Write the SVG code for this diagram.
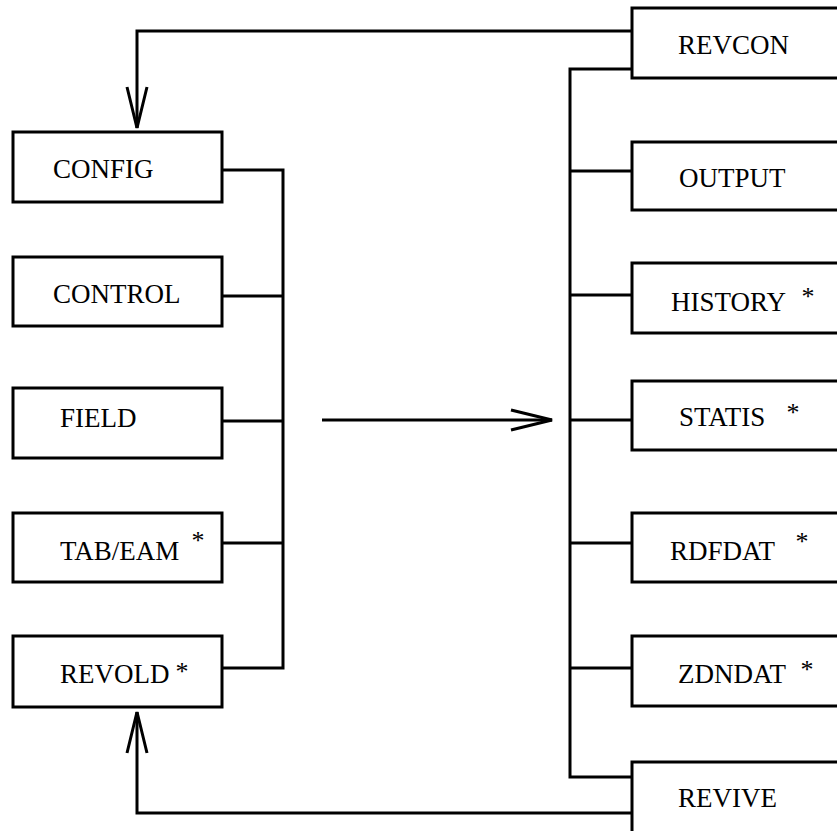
<svg xmlns="http://www.w3.org/2000/svg" width="837" height="831" viewBox="0 0 837 831">
<style>
  .box{fill:#fff;stroke:#000;stroke-width:3}
  .lbl{font-family:"Liberation Serif","Times New Roman",serif;font-size:27px;fill:#000}
  .ast{font-family:"Liberation Serif","Times New Roman",serif;font-size:26px;fill:#000;text-anchor:middle}
  .wire{fill:none;stroke:#000;stroke-width:3}
</style>
<defs>
  <marker id="vee" markerUnits="userSpaceOnUse" viewBox="-42 -12 44 24" refX="0" refY="0" markerWidth="44" markerHeight="24" orient="auto" overflow="visible">
    <path d="M-41,-10 L0,0 L-41,10" fill="none" stroke="#000" stroke-width="3"/>
  </marker>
</defs>
<rect width="837" height="831" fill="#fff"/>
<g id="connectors">
  <path class="wire" d="M632,31 H137 V128" marker-end="url(#vee)"/>
  <path class="wire" d="M632,813 H137 V712" marker-end="url(#vee)"/>
  <path class="wire" d="M222,170 H283 V668 H222"/>
  <path class="wire" d="M222,296 H283"/>
  <path class="wire" d="M222,421 H283"/>
  <path class="wire" d="M222,543 H283"/>
  <path class="wire" d="M632,69 H570 V777 H632"/>
  <path class="wire" d="M570,171 H632"/>
  <path class="wire" d="M570,295 H632"/>
  <path class="wire" d="M570,420 H632"/>
  <path class="wire" d="M570,543 H632"/>
  <path class="wire" d="M570,668 H632"/>
  <path class="wire" d="M322,420 H552" marker-end="url(#vee)"/>
</g>
<g id="config"><rect class="box" x="13" y="132" width="209" height="70"/><text class="lbl" x="53" y="178">CONFIG</text></g>
<g id="control"><rect class="box" x="13" y="257" width="209" height="69"/><text class="lbl" x="53" y="303">CONTROL</text></g>
<g id="field"><rect class="box" x="13" y="388" width="209" height="70"/><text class="lbl" x="60" y="427">FIELD</text></g>
<g id="tabeam"><rect class="box" x="13" y="513" width="209" height="69"/><text class="lbl" x="60" y="560">TAB/EAM</text><text class="ast" x="198" y="549">*</text></g>
<g id="revold"><rect class="box" x="13" y="636" width="209" height="71"/><text class="lbl" x="60" y="683">REVOLD</text><text class="ast" x="182" y="680">*</text></g>
<g id="revcon"><rect class="box" x="632" y="8" width="230" height="70"/><text class="lbl" x="678" y="54">REVCON</text></g>
<g id="output"><rect class="box" x="632" y="142" width="230" height="68"/><text class="lbl" x="679" y="187">OUTPUT</text></g>
<g id="history"><rect class="box" x="632" y="263" width="230" height="70"/><text class="lbl" x="671" y="311">HISTORY</text><text class="ast" x="808" y="305">*</text></g>
<g id="statis"><rect class="box" x="632" y="381" width="230" height="69"/><text class="lbl" x="679" y="426">STATIS</text><text class="ast" x="793" y="421">*</text></g>
<g id="rdfdat"><rect class="box" x="632" y="513" width="230" height="69"/><text class="lbl" x="670" y="560">RDFDAT</text><text class="ast" x="802" y="550">*</text></g>
<g id="zdndat"><rect class="box" x="632" y="636" width="230" height="70"/><text class="lbl" x="678" y="683">ZDNDAT</text><text class="ast" x="807" y="678">*</text></g>
<g id="revive"><rect class="box" x="632" y="762" width="230" height="90"/><text class="lbl" x="678" y="807">REVIVE</text></g>
</svg>
